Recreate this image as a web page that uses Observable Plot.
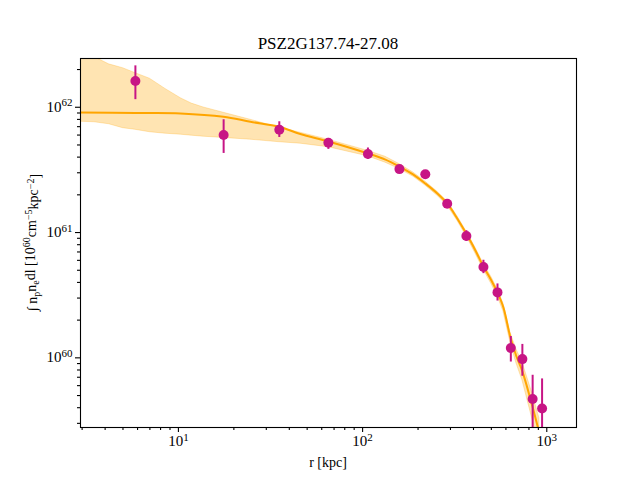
<!DOCTYPE html>
<html>
<head>
<meta charset="utf-8">
<script src="https://cdn.jsdelivr.net/npm/d3@7"></script>
<script src="https://cdn.jsdelivr.net/npm/@observablehq/plot@0.6"></script>
<style>
  html, body { margin: 0; padding: 0; background: #fff; }
</style>
</head>
<body>
<div id="chart"></div>
<script>
// ---- data ----
const titleText = "PSZ2G137.74-27.08";
const xLabel = "r [kpc]";

// measured points (r in kpc, integrated emission)
const rPts = [5.84, 17.6, 35.3, 65.2, 106.9, 158.5, 219, 288, 366, 453, 540, 638, 737, 838, 943];
const yPts = [1.62e62, 6.0e61, 6.62e61, 5.21e61, 4.24e61, 3.21e61, 2.92e61, 1.70e61, 9.38e60, 5.31e60, 3.33e60, 1.20e60, 9.77e59, 4.69e59, 3.94e59];
const yLo  = [1.15e62, 4.28e61, 5.74e61, 4.61e61, 3.84e61, 3.05e61, 2.78e61, 1.62e61, 8.49e60, 4.70e60, 2.84e60, 9.26e59, 7.13e59, 1e59, 1e59];
const yHi  = [2.14e62, 7.95e61, 7.66e61, 5.64e61, 4.73e61, 3.38e61, 3.07e61, 1.79e61, 1.035e61, 6.01e60, 3.89e60, 1.48e60, 1.28e60, 7.26e59, 6.79e59];

// best-fit model line
const rLine = [2.94, 5.84, 10.25, 17.55, 24.6, 35.3, 45.9, 65.2, 106.2, 133, 158.4, 188.7, 219.2, 254.7, 288.7, 327.1, 370.7, 409.7, 452.8, 500.3, 539.5, 581.2, 634.5, 683.9, 737.1, 835.2, 911.6];
const yLine = [9.09e61, 8.99e61, 8.93e61, 8.40e61, 7.66e61, 6.99e61, 6.11e61, 5.33e61, 4.29e61, 3.82e61, 3.36e61, 2.90e61, 2.46e61, 2.05e61, 1.70e61, 1.29e61, 9.46e60, 7.19e60, 5.36e60, 4.15e60, 3.33e60, 2.53e60, 1.46e60, 1.03e60, 7.80e59, 4.11e59, 2.50e59];

// model uncertainty band
const rBand = [2.94, 3.5, 4.2, 5.0, 5.8, 7.0, 8.5, 10.3, 11.8, 13.7, 17.6, 24.6, 35.3, 45.9, 65.2, 106.2, 133, 158.4, 188.7, 219.2, 254.7, 288.7, 327.1, 370.7, 409.7, 452.8, 500.3, 539.5, 581.2, 634.5, 683.9, 737.1, 835.2, 911.6];
const bandHi = [2.82e62, 2.52e62, 2.20e62, 2.05e62, 1.88e62, 1.69e62, 1.40e62, 1.18e62, 1.07e62, 9.96e61, 9.04e61, 7.95e61, 6.87e61, 6.27e61, 5.51e61, 4.50e61, 4.03e61, 3.52e61, 3.01e61, 2.55e61, 2.12e61, 1.77e61, 1.35e61, 9.91e60, 7.59e60, 5.66e60, 4.42e60, 3.55e60, 2.72e60, 1.60e60, 1.17e60, 9.21e59, 5.21e59, 3.30e59];
const bandLo = [7.66e61, 7.59e61, 7.32e61, 6.81e61, 6.62e61, 6.32e61, 6.15e61, 6.04e61, 5.93e61, 5.82e61, 5.69e61, 5.51e61, 5.26e61, 5.12e61, 4.80e61, 4.07e61, 3.61e61, 3.21e61, 2.79e61, 2.37e61, 1.97e61, 1.64e61, 1.24e61, 9.04e60, 6.81e60, 5.07e60, 3.89e60, 3.12e60, 2.35e60, 1.33e60, 9.04e59, 6.62e59, 3.24e59, 1.90e59];

// ticks
const xMajor = [10, 100, 1000];
const xMinor = [3,4,5,6,7,8,9,20,30,40,50,60,70,80,90,200,300,400,500,600,700,800,900];
const yMajor = [1e60, 1e61, 1e62];
const yMinor = [3e59,4e59,5e59,6e59,7e59,8e59,9e59,2e60,3e60,4e60,5e60,6e60,7e60,8e60,9e60,2e61,3e61,4e61,5e61,6e61,7e61,8e61,9e61,2e62];

// ---- build tables ----
const pts = rPts.map((r, i) => ({r, y: yPts[i], lo: yLo[i], hi: yHi[i]}));
const line = rLine.map((r, i) => ({r, y: yLine[i]}));
const band = rBand.map((r, i) => ({r, lo: bandLo[i], hi: bandHi[i]}));

const MAG = "#c71585";
const ORANGE = "#ffa500";
const FONT = "'Liberation Serif', serif";
const expFmt = d => String(Math.round(Math.log10(d)));

const svg = Plot.plot({
  width: 640,
  height: 480,
  marginLeft: 80,
  marginRight: 64,
  marginTop: 58,
  marginBottom: 53,
  style: {fontSize: "14px", color: "#000", background: "#fff", fontFamily: FONT},
  x: {type: "log", domain: [2.94, 1450]},
  y: {type: "log", domain: [2.78e59, 2.45e62]},
  marks: [
    Plot.areaY(band, {x: "r", y1: "lo", y2: "hi", fill: ORANGE, fillOpacity: 0.3, stroke: ORANGE, strokeOpacity: 0.25, strokeWidth: 1, clip: true}),
    Plot.line(line, {x: "r", y: "y", stroke: ORANGE, strokeWidth: 2, curve: "catmull-rom", clip: true}),
    Plot.ruleX(pts, {x: "r", y1: "lo", y2: "hi", stroke: MAG, strokeWidth: 2, clip: true}),
    Plot.dot(pts, {x: "r", y: "y", r: 5, fill: MAG, stroke: "none", clip: true}),
    Plot.axisX({ticks: xMajor, tickSize: 5, tickPadding: 4, tickFormat: expFmt, label: null}),
    Plot.axisX({ticks: xMinor, tickSize: 3, tickFormat: () => "", label: null}),
    Plot.axisY({ticks: yMajor, tickSize: 5, tickPadding: 3, tickFormat: expFmt, label: null}),
    Plot.axisY({ticks: yMinor, tickSize: 3, tickFormat: () => "", label: null}),
    Plot.frame({stroke: "#000", strokeWidth: 1.1})
  ]
});

const s = d3.select(svg);
// superscript tick labels
s.selectAll('g[aria-label="x-axis tick label"] text, g[aria-label="y-axis tick label"] text').each(function() {
  const t = d3.select(this);
  const e = t.text();
  if (!e) return;
  t.text(null);
  t.append("tspan").attr("font-size", "15px").text("10");
  t.append("tspan").attr("dy", "-0.5em").attr("font-size", "11px").text(e);
});
s.selectAll('g[aria-label="x-axis tick"] path, g[aria-label="y-axis tick"] path').attr("stroke-width", 1.1);

// title
s.append("text")
  .attr("x", 328).attr("y", 49)
  .attr("text-anchor", "middle")
  .attr("font-size", "17px")
  .attr("fill", "#000")
  .text(titleText);

// x label
s.append("text")
  .attr("x", 328).attr("y", 467)
  .attr("text-anchor", "middle")
  .attr("font-size", "14px")
  .attr("fill", "#000")
  .text(xLabel);

// y label with sub/superscripts
const ylg = s.append("g").attr("transform", "translate(37,242) rotate(-90)");
const yl = ylg.append("text")
  .attr("x", 0).attr("y", 0)
  .attr("text-anchor", "start")
  .attr("font-size", "14px")
  .attr("fill", "#000");
const parts = [
  ["∫ n", 0], ["p", 1], ["n", -1], ["e", 1], ["dl [10", -1], ["60", -2],
  ["cm", 2], ["−5", -2], ["kpc", 2], ["−2", -2], ["]", 2]
];
parts.forEach(([txt, k]) => {
  const ts = yl.append("tspan").text(txt);
  if (k === 1) ts.attr("dy", "0.3em").attr("font-size", "10px");
  if (k === -1) ts.attr("dy", "-0.3em");
  if (k === -2) ts.attr("dy", "-0.45em").attr("font-size", "10px");
  if (k === 2) ts.attr("dy", "0.45em");
});

s.selectAll("text").attr("font-family", FONT);
document.getElementById("chart").appendChild(svg);
// centre the y label on the axes
const bb = yl.node().getBBox();
yl.attr("x", -bb.width / 2);
</script>
</body>
</html>
